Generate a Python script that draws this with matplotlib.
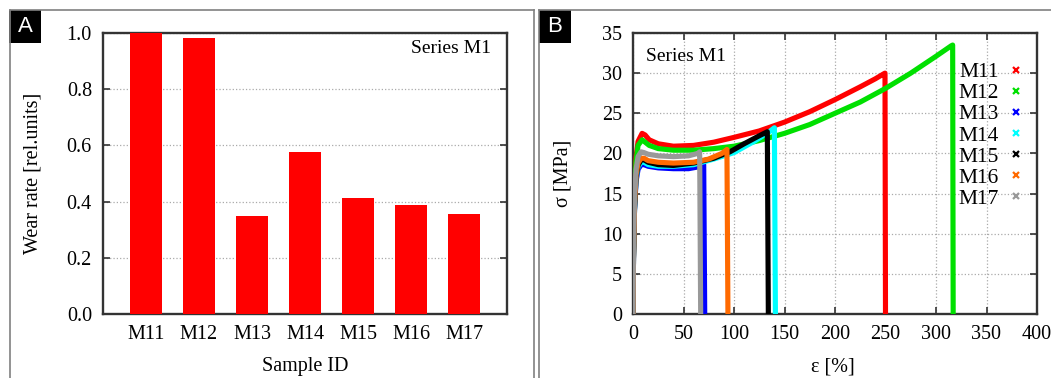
import matplotlib
matplotlib.use("Agg")
import matplotlib.pyplot as plt
from matplotlib.patches import Rectangle
from matplotlib.lines import Line2D

# ---------------- data ----------------
samples = ["M11", "M12", "M13", "M14", "M15", "M16", "M17"]
wear_rate = [1.0, 0.982, 0.349, 0.575, 0.414, 0.388, 0.355]

m11_strain = [0, 0.5, 1.5, 3, 5, 9, 12, 16, 25, 40, 60, 80, 100, 125, 150, 175, 200, 225, 240, 248, 249.5, 250]
m11_stress = [0, 8, 15, 19.5, 21.5, 22.5, 22.3, 21.7, 21.2, 20.9, 21.0, 21.4, 22.0, 22.8, 23.9, 25.2, 26.7, 28.3, 29.3, 29.9, 30.0, 0]
m12_strain = [0, 0.5, 1.5, 3, 5, 9, 12, 16, 25, 40, 60, 80, 100, 125, 150, 175, 200, 225, 250, 275, 300, 315, 316.5, 317]
m12_stress = [0, 8, 15, 19.0, 21.0, 21.7, 21.4, 21.0, 20.6, 20.4, 20.4, 20.6, 20.9, 21.6, 22.5, 23.6, 25.0, 26.4, 28.1, 30.0, 32.1, 33.4, 33.5, 0]
m13_strain = [0, 0.5, 1.5, 3, 5, 8, 11, 15, 25, 40, 55, 68, 70, 71]
m13_stress = [0, 7, 13, 16.5, 18.0, 18.6, 18.6, 18.4, 18.2, 18.1, 18.1, 18.4, 18.6, 0]
m14_strain = [0, 0.5, 1.5, 3, 5, 8, 11, 15, 25, 40, 60, 80, 100, 120, 135, 140, 141]
m14_stress = [0, 7, 13, 16.8, 18.3, 18.9, 18.9, 18.6, 18.4, 18.4, 18.6, 19.3, 20.1, 21.5, 22.7, 23.2, 0]
m15_strain = [0, 0.5, 1.5, 3, 5, 8, 11, 15, 25, 40, 60, 80, 96, 110, 125, 133, 134]
m15_stress = [0, 7, 13, 17.0, 18.5, 19.2, 19.2, 18.9, 18.6, 18.5, 18.8, 19.4, 20.2, 21.2, 22.2, 22.7, 0]
m16_strain = [0, 0.5, 1.5, 3, 5, 8, 11, 15, 25, 40, 60, 75, 88, 93, 94]
m16_stress = [0, 7, 13.5, 17.3, 18.8, 19.4, 19.4, 19.1, 18.9, 18.8, 18.9, 19.3, 20.0, 20.5, 0]
m17_strain = [0, 0.5, 1.5, 3, 5, 8, 11, 15, 25, 40, 55, 64, 66, 67]
m17_stress = [0, 8, 14.5, 18.0, 19.6, 20.2, 20.1, 19.9, 19.7, 19.6, 19.7, 20.0, 20.2, 0]

curves = [(m11_strain, m11_stress), (m12_strain, m12_stress), (m13_strain, m13_stress),
          (m14_strain, m14_stress), (m15_strain, m15_stress), (m16_strain, m16_stress),
          (m17_strain, m17_stress)]
curve_colors = ["#ff0000", "#00e000", "#0000ff", "#00ffff", "#000000", "#ff6a00", "#999999"]

# ---------------- figure ----------------
W, H = 1051, 378
plt.rcParams["font.family"] = ["Liberation Serif", "DejaVu Serif"]
fig = plt.figure(figsize=(W / 100, H / 100), dpi=100)
FS = 14.5
SPINE = "#333333"


def ax_rect(l, r, t, b):
    return [l / W, (H - b) / H, (r - l) / W, (b - t) / H]


def style_axes(ax):
    for s in ax.spines.values():
        s.set_color(SPINE)
        s.set_linewidth(1.7)
    ax.tick_params(direction="in", length=5, width=1.2, color=SPINE,
                   labelsize=FS, pad=8, top=True, right=True)


# ---- Panel A ----
axA = fig.add_axes(ax_rect(103, 507, 33, 314))
xpos = list(range(len(samples)))
axA.bar(xpos, wear_rate, width=0.6, color="#ff0000", zorder=3)
axA.set_xlim(-0.81, 6.81)
axA.set_ylim(0, 1.0)
axA.set_yticks([0, 0.2, 0.4, 0.6, 0.8, 1.0])
axA.set_yticklabels(["0.0", "0.2", "0.4", "0.6", "0.8", "1.0"])
axA.set_xticks(xpos)
axA.set_xticklabels(samples)
style_axes(axA)
axA.tick_params(axis="x", length=0, top=False)
axA.grid(axis="y", linestyle=":", color="#aaaaaa", linewidth=0.9, zorder=0)
axA.text(0.96, 0.945, "Series M1", transform=axA.transAxes, ha="right", va="center", fontsize=FS - 0.5)
fig.text(33 / W, 1 - 173.5 / H, "Wear rate [rel.units]", rotation=90, ha="center", va="center", fontsize=FS)
fig.text(305 / W, 1 - 367 / H, "Sample ID", ha="center", va="center", fontsize=FS)

# ---- Panel B ----
axB = fig.add_axes(ax_rect(633, 1037, 33, 314))
for (sx, sy), c in zip(curves, curve_colors):
    axB.plot(sx, sy, color=c, linewidth=3.7, solid_joinstyle="round", zorder=3)
axB.set_xlim(0, 400)
axB.set_ylim(0, 35)
axB.set_xticks(range(0, 401, 50))
axB.set_yticks(range(0, 36, 5))
style_axes(axB)
axB.grid(True, linestyle=":", color="#aaaaaa", linewidth=0.9, zorder=0)
axB.text(0.032, 0.915, "Series M1", transform=axB.transAxes, ha="left", va="center", fontsize=FS - 0.5)
fig.text(563 / W, 1 - 173.5 / H, "σ [MPa]", rotation=90, ha="center", va="center", fontsize=FS)
fig.text(833 / W, 1 - 367 / H, "ε [%]", ha="center", va="center", fontsize=FS)

handles = [Line2D([], [], color=c, marker="x", linestyle="none", markersize=4.5, markeredgewidth=1.6)
           for c in curve_colors]
axB.legend(handles, samples, loc="upper right", bbox_to_anchor=(1027 / W, 1 - 62 / H),
           bbox_transform=fig.transFigure, frameon=False, markerfirst=False,
           fontsize=15.5, labelspacing=0.05, handlelength=1.0, handletextpad=0.3,
           borderpad=0, borderaxespad=0)

# ---- panel frames and labels ----
frame_kw = dict(color="#808080", linewidth=1.2, transform=fig.transFigure)
for (x0, y0, x1, y1) in [(10, 10, 534, 10), (10, 10, 10, 378), (534, 10, 534, 378),
                         (539, 10, 1051, 10), (539, 10, 539, 378)]:
    fig.add_artist(Line2D([x0 / W, x1 / W], [1 - y0 / H, 1 - y1 / H], **frame_kw))

for lbl, x0 in [("A", 9), ("B", 539)]:
    fig.add_artist(Rectangle((x0 / W, 1 - 43 / H), 32 / W, 33 / H, facecolor="black",
                             edgecolor="none", transform=fig.transFigure))
    fig.text((x0 + 16) / W, 1 - 26.5 / H, lbl, color="white", ha="center", va="center",
             fontsize=16, family=["Liberation Sans", "DejaVu Sans"])

fig.savefig("out.png", dpi=100)
